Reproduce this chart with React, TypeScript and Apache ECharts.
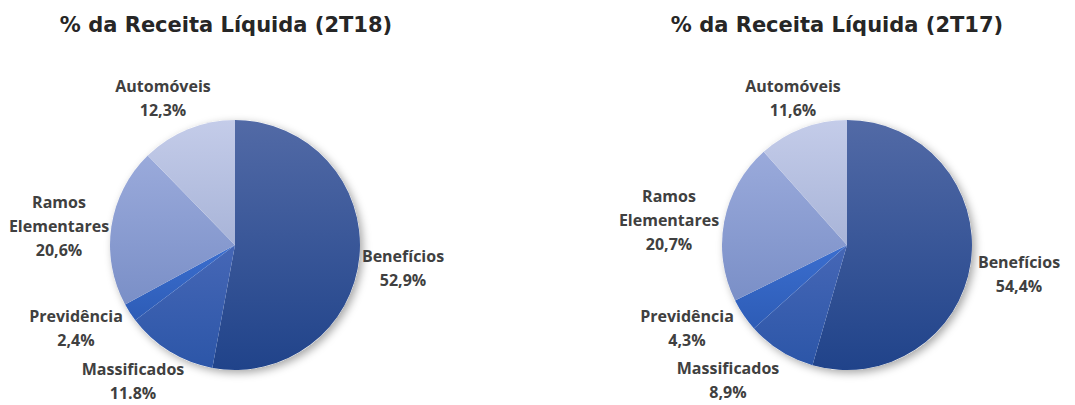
import React, { useEffect, useRef } from "react";
import * as echarts from "echarts";

const categories = ["Benefícios", "Massificados", "Previdência", "Ramos\nElementares", "Automóveis"];
const values2T18 = [52.9, 11.8, 2.4, 20.6, 12.3];
const values2T17 = [54.4, 8.9, 4.3, 20.7, 11.6];
const labels2T18 = ["52,9%", "11.8%", "2,4%", "20,6%", "12,3%"];
const labels2T17 = ["54,4%", "8,9%", "4,3%", "20,7%", "11,6%"];
const titles = ["% da Receita Líquida (2T18)", "% da Receita Líquida (2T17)"];

const sliceColors: [string, string][] = [
  ["#526aa6", "#20438a"],
  ["#4667b6", "#2c56a8"],
  ["#3b6ecf", "#2d5cb6"],
  ["#9aaadb", "#7a8fc7"],
  ["#c4cce9", "#a8b4d8"],
];

const labelPos2T18 = [
  [403, 268],
  [133, 381],
  [76, 328],
  [59, 226],
  [163, 98],
];
const labelPos2T17 = [
  [1019, 274],
  [728, 380],
  [687, 328],
  [669, 220],
  [793, 98],
];

function grad(c: [string, string]) {
  return new echarts.graphic.LinearGradient(0, 0, 0, 1, [
    { offset: 0, color: c[0] },
    { offset: 1, color: c[1] },
  ]);
}

function buildSeries(values: number[], labels: string[], center: number[], pos: number[][]) {
  const data = values.map((v, i) => ({
    name: categories[i],
    value: v,
    itemStyle: { color: grad(sliceColors[i]) },
  }));
  return [
    {
      type: "pie",
      silent: true,
      center,
      radius: 125,
      z: 1,
      label: { show: false },
      labelLine: { show: false },
      itemStyle: {
        color: "#ffffff",
        shadowBlur: 8,
        shadowOffsetX: 3,
        shadowOffsetY: 3,
        shadowColor: "rgba(0,0,0,0.35)",
      },
      data: [{ value: 1, name: "bg" }],
    },
    {
      type: "pie",
      center,
      radius: 125,
      startAngle: 90,
      clockwise: true,
      z: 2,
      itemStyle: { borderWidth: 0 },
      label: {
        show: true,
        position: "outside",
        alignTo: "none",
        overflow: "none",
        color: "#404040",
        fontFamily: "Open Sans",
        fontWeight: "bold",
        fontSize: 16,
        lineHeight: 24,
        align: "center",
        formatter: (p: any) => p.name + "\n" + labels[p.dataIndex],
      },
      labelLine: { show: false },
      labelLayout: (p: any) => ({
        x: pos[p.dataIndex][0],
        y: pos[p.dataIndex][1],
        align: "center",
        verticalAlign: "middle",
      }),
      data,
    },
  ];
}

export default function App() {
  const ref = useRef<HTMLDivElement>(null);
  useEffect(() => {
    document.body.style.margin = "0";
    const chart = echarts.init(ref.current!, null, { renderer: "svg" });
    chart.setOption({
      animation: false,
      backgroundColor: "#ffffff",
      title: [
        {
          text: titles[0],
          left: 221,
          top: 9,
          textAlign: "center",
          textStyle: { fontFamily: "DejaVu Sans", fontWeight: "bold", fontSize: 21, color: "#262626" },
        },
        {
          text: titles[1],
          left: 832,
          top: 9,
          textAlign: "center",
          textStyle: { fontFamily: "DejaVu Sans", fontWeight: "bold", fontSize: 21, color: "#262626" },
        },
      ],
      series: [
        ...buildSeries(values2T18, labels2T18, [235, 245], labelPos2T18),
        ...buildSeries(values2T17, labels2T17, [847, 245], labelPos2T17),
      ],
    });
    return () => chart.dispose();
  }, []);
  return <div ref={ref} style={{ width: 1075, height: 405 }} />;
}
